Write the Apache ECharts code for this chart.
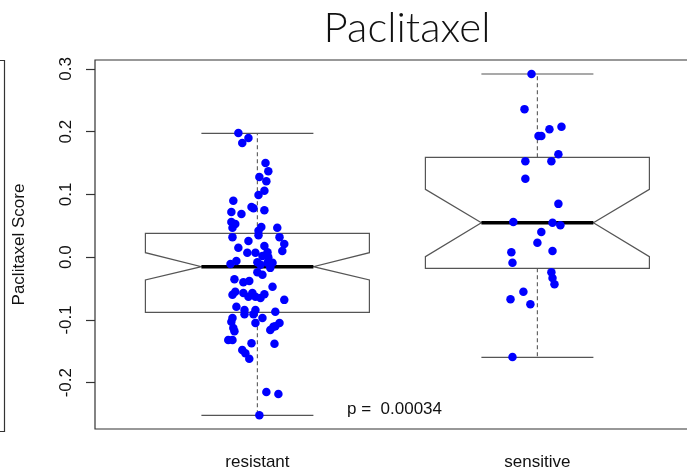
<!DOCTYPE html>
<html>
<head>
<meta charset="utf-8">
<script src="https://cdn.jsdelivr.net/npm/echarts@6/dist/echarts.min.js"></script>
<style>html,body{margin:0;padding:0;background:#fff}#c{width:687px;height:471px}</style>
</head>
<body>
<div id="c"></div>
<script>
const categories = ['resistant', 'sensitive'];
const whiskerLow  = [-0.252, -0.1595];
const q1          = [-0.0878, -0.0177];
const notchLow    = [-0.0363, 0.0008];
const median      = [-0.0151, 0.055];
const notchHigh   = [0.0072, 0.1082];
const q3          = [0.0381, 0.1592];
const whiskerHigh = [0.1973, 0.292];
const yTicks = [-0.2, -0.1, 0, 0.1, 0.2, 0.3];
const pValueText = 'p =  0.00034';

const resistantScore = [0.198,0.190,0.182,0.150,0.137,0.128,0.121,0.106,0.099,0.090,
 0.080,0.078,0.072,0.069,0.075,0.056,0.053,0.047,0.048,0.047,
 0.042,0.032,0.035,0.032,0.021,0.015,0.026,0.018,0.010,0.007,
 0.007,0.008,0.002,0.000,-0.011,-0.006,-0.008,-0.012,-0.009,-0.009,
 -0.017,-0.024,-0.028,-0.035,-0.040,-0.038,-0.047,-0.060,-0.055,-0.057,
 -0.063,-0.057,-0.063,-0.065,-0.059,-0.068,-0.079,-0.084,-0.091,-0.084,
 -0.091,-0.087,-0.097,-0.097,-0.103,-0.105,-0.105,-0.110,-0.113,-0.118,
 -0.116,-0.111,-0.132,-0.132,-0.137,-0.138,-0.148,-0.153,-0.162,-0.215,
 -0.218,-0.252];
const resistantJitter = [-0.068,-0.032,-0.054,0.029,0.039,0.007,0.032,0.025,0.004,-0.086,
 -0.021,-0.014,-0.093,-0.057,0.025,-0.093,-0.079,-0.089,0.014,0.071,
 0.004,-0.089,0.004,0.079,0.096,-0.068,-0.032,0.025,0.089,-0.036,
 -0.007,0.036,0.018,0.039,-0.096,-0.075,0.000,0.011,0.036,0.054,
 0.046,0.000,0.018,-0.082,-0.050,-0.029,0.054,-0.089,-0.079,-0.050,
 -0.032,-0.018,-0.007,0.011,0.025,0.096,-0.075,-0.046,-0.046,-0.007,
 -0.014,0.064,0.018,-0.089,-0.093,-0.007,0.079,0.064,-0.086,-0.082,
 0.046,0.057,-0.104,-0.089,-0.021,0.061,-0.054,-0.043,-0.029,0.032,
 0.075,0.007];
const sensitiveScore = [0.292,0.236,0.204,0.208,0.193,0.193,0.164,0.153,0.153,0.125,
 0.085,0.056,0.055,0.051,0.040,0.023,0.008,0.010,-0.009,-0.024,
 -0.033,-0.043,-0.055,-0.067,-0.075,-0.159];
const sensitiveJitter = [-0.021,-0.046,0.043,0.086,0.004,0.014,0.075,-0.043,0.050,-0.043,
 0.075,-0.086,0.054,0.082,0.014,0.000,-0.093,0.054,-0.089,0.050,
 0.054,0.061,-0.050,-0.096,-0.025,-0.089];

const boxData = categories.map((c, i) => [i + 1, whiskerLow[i], q1[i], notchLow[i], median[i], notchHigh[i], q3[i], whiskerHigh[i]]);
const pointData = resistantScore.map((v, i) => [1 + resistantJitter[i], v])
  .concat(sensitiveScore.map((v, i) => [2 + sensitiveJitter[i], v]));

const HALF = 0.4, CAP = 0.2;
const lineCol = '#555';

function renderBox(params, api) {
  const x = api.value(0);
  const wl = api.value(1), lq = api.value(2), nl = api.value(3), md = api.value(4),
        nh = api.value(5), uq = api.value(6), wh = api.value(7);
  const c = (dx, v) => api.coord([x + dx, v]);
  const pts = [c(-HALF, uq), c(-HALF, nh), c(-HALF / 2, md), c(-HALF, nl), c(-HALF, lq),
               c(HALF, lq), c(HALF, nl), c(HALF / 2, md), c(HALF, nh), c(HALF, uq)];
  const seg = (a, b, style) => ({ type: 'line', shape: { x1: a[0], y1: a[1], x2: b[0], y2: b[1] }, style: style });
  const solid = { stroke: lineCol, lineWidth: 1.2 };
  const dashed = { stroke: '#666', lineWidth: 1.2, lineDash: [4, 3] };
  return {
    type: 'group',
    children: [
      seg(c(0, uq), c(0, wh), dashed),
      seg(c(0, lq), c(0, wl), dashed),
      seg(c(-CAP, wh), c(CAP, wh), solid),
      seg(c(-CAP, wl), c(CAP, wl), solid),
      { type: 'polygon', shape: { points: pts }, style: { fill: '#fff', stroke: lineCol, lineWidth: 1.2 } },
      seg(c(-HALF / 2, md), c(HALF / 2, md), { stroke: '#000', lineWidth: 3.5 })
    ]
  };
}

const chart = echarts.init(document.getElementById('c'), null, { renderer: 'canvas' });
chart.setOption({
  animation: false,
  backgroundColor: '#fff',
  title: {
    text: 'Paclitaxel', left: 402, top: 2, textAlign: 'center',
    textStyle: { fontFamily: 'Lato', fontSize: 42, fontWeight: 300, color: '#111' }
  },
  grid: {
    left: 95, top: 60, width: 604.8, height: 369,
    show: true, borderColor: '#333', borderWidth: 1.2, backgroundColor: 'transparent',
    containLabel: false, outerBoundsMode: 'none'
  },
  xAxis: {
    type: 'value', min: 0.42, max: 2.58,
    axisLine: { show: false },
    splitLine: { show: false },
    axisTick: { show: true, length: 9, customValues: [1, 2], lineStyle: { color: '#333', width: 1.2 } },
    axisLabel: {
      customValues: [1, 2], margin: 25,
      formatter: v => categories[Math.round(v) - 1] || '',
      fontFamily: 'Liberation Sans', fontSize: 17, color: '#111'
    }
  },
  yAxis: {
    type: 'value', min: -0.2738, max: 0.3143,
    axisLine: { show: false },
    splitLine: { show: false },
    axisTick: { show: true, length: 9, customValues: yTicks, lineStyle: { color: '#333', width: 1.2 } },
    axisLabel: {
      customValues: yTicks, rotate: 90, margin: 20,
      formatter: v => (Math.abs(v) < 1e-9 ? 0 : v).toFixed(1),
      fontFamily: 'Liberation Sans', fontSize: 17, color: '#111'
    },
    name: 'Paclitaxel Score', nameLocation: 'middle', nameRotate: 90, nameGap: 67,
    nameTextStyle: { fontFamily: 'Liberation Sans', fontSize: 17, color: '#111' }
  },
  graphic: [
    { type: 'polyline', shape: { points: [[0, 60.5], [4.5, 60.5], [4.5, 431.5], [0, 431.5]] },
      style: { stroke: '#333', lineWidth: 1.2, fill: null } },
    { type: 'text', left: 347, top: 401,
      style: { text: pValueText, fontFamily: 'Liberation Sans', fontSize: 17, fill: '#111' } }
  ],
  series: [
    { type: 'custom', data: boxData, renderItem: renderBox, z: 2, clip: false, silent: true },
    { type: 'scatter', data: pointData, symbol: 'circle', symbolSize: 8.5,
      itemStyle: { color: '#0000ff', opacity: 1 }, z: 5, silent: true }
  ]
});
</script>
</body>
</html>
